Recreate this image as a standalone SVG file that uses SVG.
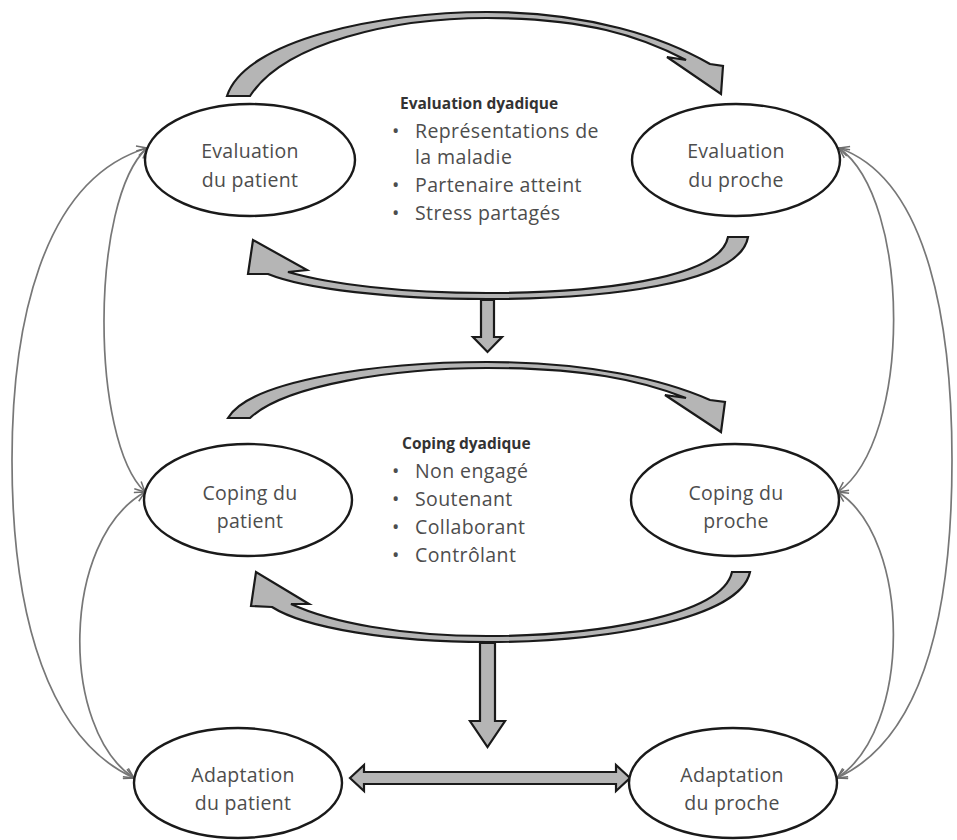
<svg xmlns="http://www.w3.org/2000/svg" width="957" height="840" viewBox="0 0 957 840">
  <style>
    .node ellipse { fill: #ffffff; stroke: #1a1a1a; stroke-width: 2.4; }
    .label { font-family: "Open Sans", "Liberation Sans", sans-serif; font-size: 19.5px; letter-spacing: 0.3px; fill: #4d4d4d; text-anchor: middle; }
    .block { fill: #b5b5b5; stroke: #1a1a1a; stroke-width: 2.2; stroke-linejoin: miter; }
    .link { fill: none; stroke: #777777; stroke-width: 1.7; marker-start: url(#open); marker-end: url(#open); }
    .title { font-family: "Open Sans", "Liberation Sans", sans-serif; font-size: 15.5px; font-weight: bold; fill: #333333; }
    .item { font-family: "Open Sans", "Liberation Sans", sans-serif; font-size: 19.5px; letter-spacing: 0.4px; fill: #4d4d4d; }
  </style>
  <defs>
    <marker id="open" viewBox="0 0 12 12" refX="11" refY="6" markerWidth="12" markerHeight="12" markerUnits="userSpaceOnUse" orient="auto-start-reverse">
      <path d="M1,1 L11,6 L1,11" fill="none" stroke="#6d6d6d" stroke-width="1.5"/>
    </marker>
  </defs>

  <rect width="957" height="840" fill="#ffffff"/>

  <!-- thin side connectors -->
  <g id="connectors">
    <path class="link" d="M147,148 C 40,180 12,330 12,460 C 12,620 50,740 134,778"/>
    <path class="link" d="M147,148 C 90,200 90,440 145,492"/>
    <path class="link" d="M145,492 C 60,540 60,730 134,778"/>
    <path class="link" d="M839,148 C 930,180 952,330 952,460 C 952,620 920,740 837,778"/>
    <path class="link" d="M839,148 C 912,200 912,440 838,492"/>
    <path class="link" d="M838,492 C 912,540 912,730 837,778"/>
  </g>

  <!-- curved block arrows and straight block arrows -->
  <g id="block-arrows">
    <path class="block" d="M227,96 C 245,40 380,12 487,12 C 590,12 665,38 710,64 L723,66 L721,94 L667,57 L686,60 C 640,36 585,18 487,18 C 395,18 285,42 250,96 Z"/>
    <path class="block" d="M748,237 C 740,285 600,299 487,299 C 390,299 305,289 268,274 L248,274 L253,240 L307,270 L288,272 C 330,284 400,293 487,293 C 590,293 720,280 728,237 Z"/>
    <path class="block" d="M481,300 L494,300 L494,337 L502,337 L487.5,352 L473,337 L481,337 Z"/>
    <path class="block" d="M228,418 C 250,380 380,362 487,362 C 590,362 665,380 710,400 L725,402 L721,432 L665,395 L686,398 C 640,380 585,368 487,368 C 395,368 285,385 250,418 Z"/>
    <path class="block" d="M750,572 C 740,620 600,642 487,642 C 390,642 305,628 272,607 L251,606 L256,572 L309,604 L291,604 C 330,622 400,636 487,636 C 590,636 722,617 732,572 Z"/>
    <path class="block" d="M480,643 L495,643 L495,721 L505,721 L487.5,747 L470,721 L480,721 Z"/>
    <path class="block" d="M350,778 L364,765 L364,772 L616,772 L616,765 L630,778 L616,791 L616,784 L364,784 L364,791 Z"/>
  </g>

  <g id="evaluation-patient" class="node">
    <ellipse cx="250" cy="160" rx="105" ry="56"/>
    <text class="label" x="250" y="158">Evaluation</text>
    <text class="label" x="250" y="187">du patient</text>
  </g>
  <g id="evaluation-proche" class="node">
    <ellipse cx="736" cy="160" rx="104" ry="56"/>
    <text class="label" x="736" y="158">Evaluation</text>
    <text class="label" x="736" y="187">du proche</text>
  </g>
  <g id="coping-patient" class="node">
    <ellipse cx="248" cy="500" rx="104" ry="56"/>
    <text class="label" x="250" y="500">Coping du</text>
    <text class="label" x="250" y="528">patient</text>
  </g>
  <g id="coping-proche" class="node">
    <ellipse cx="735" cy="500" rx="104" ry="56"/>
    <text class="label" x="736" y="500">Coping du</text>
    <text class="label" x="736" y="528">proche</text>
  </g>
  <g id="adaptation-patient" class="node">
    <ellipse cx="238" cy="783" rx="104" ry="55"/>
    <text class="label" x="243" y="782">Adaptation</text>
    <text class="label" x="243" y="810">du patient</text>
  </g>
  <g id="adaptation-proche" class="node">
    <ellipse cx="733" cy="783" rx="104" ry="55"/>
    <text class="label" x="732" y="782">Adaptation</text>
    <text class="label" x="732" y="810">du proche</text>
  </g>

  <g id="evaluation-dyadique">
    <text class="title" x="400" y="109">Evaluation dyadique</text>
    <text class="item" x="392" y="138">•</text>
    <text class="item" x="415" y="138">Représentations de</text>
    <text class="item" x="415" y="164">la maladie</text>
    <text class="item" x="392" y="192">•</text>
    <text class="item" x="415" y="192">Partenaire atteint</text>
    <text class="item" x="392" y="220">•</text>
    <text class="item" x="415" y="220">Stress partagés</text>
  </g>

  <g id="coping-dyadique">
    <text class="title" x="402" y="449">Coping dyadique</text>
    <text class="item" x="392" y="478">•</text>
    <text class="item" x="415" y="478">Non engagé</text>
    <text class="item" x="392" y="506">•</text>
    <text class="item" x="415" y="506">Soutenant</text>
    <text class="item" x="392" y="534">•</text>
    <text class="item" x="415" y="534">Collaborant</text>
    <text class="item" x="392" y="562">•</text>
    <text class="item" x="415" y="562">Contrôlant</text>
  </g>
</svg>
